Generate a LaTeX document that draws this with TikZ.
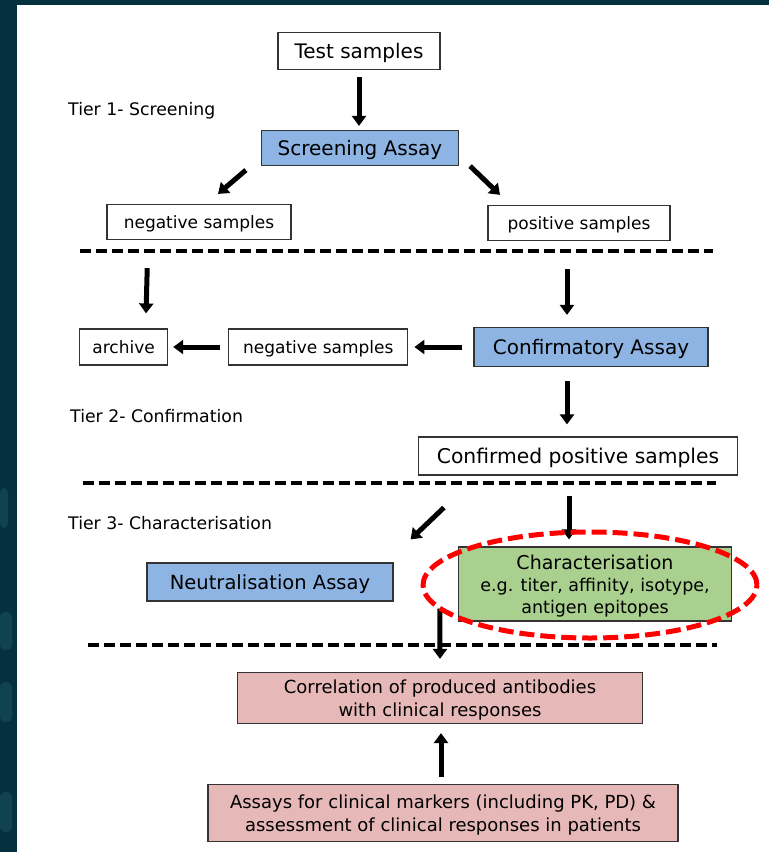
\documentclass[tikz,border=0pt]{standalone}
\usepackage{fontspec}
\setmainfont{DejaVu Sans}
\usetikzlibrary{arrows.meta, positioning}
\definecolor{slidebg}{HTML}{05313F}
\definecolor{slideblob}{HTML}{11434F}
\definecolor{assayblue}{HTML}{8EB4E3}
\definecolor{chargreen}{HTML}{A9D08E}
\definecolor{clinpink}{HTML}{E6B9B8}
\tikzset{
  samplebox/.style={
    inner sep=0pt,
    minimum height=35pt,
    text depth=0pt,
    align=center,
    draw=black!80,
    line width=1.2pt,
    fill=white,
    font=\fontsize{17}{22}\selectfont
  },
  bigbox/.style={
    samplebox,
    minimum height=38pt,
    font=\fontsize{20}{24}\selectfont
  },
  assay/.style={
    bigbox,
    fill=assayblue
  },
  charbox/.style={
    samplebox,
    fill=chargreen,
    font=\fontsize{17.5}{22}\selectfont
  },
  clinbox/.style={
    samplebox,
    fill=clinpink,
    font=\fontsize{18}{23}\selectfont
  },
  tier/.style={anchor=west, inner sep=0pt, font=\fontsize{17.3}{20}\selectfont},
  tierline/.style={line width=3.5pt, dash pattern=on 11pt off 5pt},
  focus/.style={draw=red, line width=5pt, dash pattern=on 15pt off 6pt},
  arrow/.style={line width=5pt, -{Triangle[width=14pt,length=10pt]}}
}

\begin{document}
\begin{tikzpicture}[x=1pt, y=-1pt]
    \useasboundingbox (0,0) rectangle (769,852);
    % slide background
    \fill [slidebg] (0,0) rectangle (769,852);
    \fill [white] (17,5) rectangle (769,852);
    \fill [slideblob, rounded corners=5pt] (0,488) rectangle (8,528);
    \fill [slideblob, rounded corners=5pt] (0,612) rectangle (12,650);
    \fill [slideblob, rounded corners=5pt] (0,682) rectangle (12,722);
    \fill [slideblob, rounded corners=5pt] (0,792) rectangle (12,832);

    % tier 1
    \node (test) [bigbox, minimum width=162pt, minimum height=37pt] at (359,51) {Test samples};
    \node (tier1) [tier] at (68,111) {Tier 1- Screening};
    \node (screen) [assay, minimum width=197pt, minimum height=35pt] at (360,148) {Screening Assay};
    \node (negA) [samplebox, minimum width=184pt] at (199,222) {negative samples};
    \node (posA) [samplebox, minimum width=182pt] at (579,223) {positive samples};
    \draw [tierline] (80,251) -- (713,251);

    % tier 2
    \node (confirm) [assay, minimum width=234pt, minimum height=39pt] at (591,347) {Confirmatory Assay};
    \node (negB) [samplebox, minimum width=179pt, minimum height=36pt, left=65pt of confirm] {negative samples};
    \node (archive) [samplebox, minimum width=88pt, minimum height=36pt, left=60pt of negB] {archive};
    \node (tier2) [tier] at (70,416) {Tier 2- Confirmation};
    \node (confirmed) [bigbox, minimum width=319pt, font=\fontsize{20.3}{24}\selectfont] at (578,456) {Confirmed positive samples};
    \draw [tierline] (83,483) -- (716,483);

    % tier 3
    \node (tier3) [tier] at (68,523) {Tier 3- Characterisation};
    \node (neutral) [assay, minimum width=246pt, font=\fontsize{19.5}{24}\selectfont] at (270,582) {Neutralisation Assay};
    \node (character) [charbox, minimum width=273pt, minimum height=74pt] at (595,584)
      {{\fontsize{19}{22}\selectfont Characterisation} \\
      e.g. titer, affinity, isotype, \\ antigen epitopes};
    \draw [tierline] (88,645) -- (717,645);

    % clinical
    \node (correl) [clinbox, minimum width=405pt, minimum height=51pt] at (440,698)
      {Correlation of produced antibodies \\ with clinical responses};
    \node (assays) [clinbox, minimum width=470pt, minimum height=57pt] at (443,813)
      {Assays for clinical markers (including PK, PD) \& \\
      assessment of clinical responses in patients};

    % arrows
    \draw [arrow, shorten <=7pt, shorten >=4pt] (test.south) -- (test.south |- screen.north);
    \draw [arrow] ([shift={(-15pt,-4pt)}]screen.south west) -- ([shift={(19pt,10pt)}]negA.north);
    \draw [arrow] ([shift={(11pt,0pt)}]screen.south east) -- ([shift={(-79pt,10pt)}]posA.north);
    \draw [arrow, shorten <=28pt, shorten >=15pt] ([xshift=-51pt]negA.south) -- ([xshift=22pt]archive.north);
    \draw [arrow, shorten <=28pt, shorten >=12pt] ([xshift=-12pt]posA.south) -- ([xshift=-24pt]confirm.north);
    \draw [arrow, shorten <=11pt, shorten >=6pt] (confirm.west) -- (negB.east);
    \draw [arrow, shorten <=8pt, shorten >=5pt] (negB.west) -- (archive.east);
    \draw [arrow, shorten <=14pt, shorten >=12pt] ([xshift=-24pt]confirm.south) -- ([xshift=-11pt]confirmed.north);
    \draw [arrow] ([shift={(26pt,-32pt)}]confirmed.south west) -- ([shift={(17pt,23pt)}]neutral.north east);
    \draw [arrow, shorten <=20pt, shorten >=7pt] ([xshift=-9pt]confirmed.south) -- ([xshift=-26pt]character.north);
    \draw [arrow, shorten >=13pt] ([shift={(-18pt,13pt)}]character.south west) -- (correl.north);
    \draw [arrow, shorten <=7pt, shorten >=9pt] ([xshift=-2pt]assays.north) -- ([xshift=-2pt]assays.north |- correl.south);

    % highlight
    \draw [focus] (590,585) ellipse [x radius=167pt, y radius=53pt];
  \end{tikzpicture}
\end{document}
